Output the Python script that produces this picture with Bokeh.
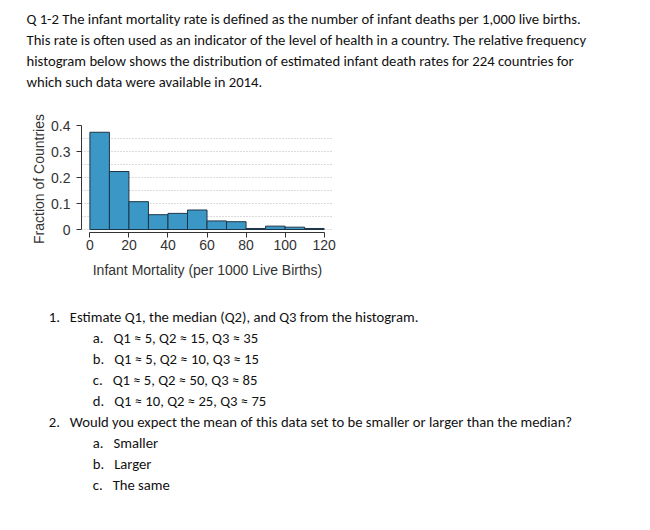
from bokeh.plotting import figure
from bokeh.models import Title, FixedTicker, NumeralTickFormatter, Range1d, ColumnDataSource
from bokeh.embed import file_html
from bokeh.resources import INLINE

# ---------------- data ----------------
bin_left = [0, 10, 20, 30, 40, 50, 60, 70, 80, 90, 100, 110]
bin_right = [10, 20, 30, 40, 50, 60, 70, 80, 90, 100, 110, 120]
fraction = [0.374, 0.223, 0.107, 0.057, 0.062, 0.075, 0.033, 0.030, 0.004, 0.013, 0.009, 0.004]

x_ticks = [0, 20, 40, 60, 80, 100, 120]
y_ticks = [0, 0.1, 0.2, 0.3, 0.4]
grid_levels = [0, 0.05, 0.1, 0.15, 0.2, 0.25, 0.3, 0.35, 0.4]

x_title = "Infant Mortality (per 1000 Live Births)"
y_title = "Fraction of Countries"

intro_lines = [
    "Q 1-2 The infant mortality rate is defined as the number of infant deaths per 1,000 live births.",
    "This rate is often used as an indicator of the level of health in a country. The relative frequency",
    "histogram below shows the distribution of estimated infant death rates for 224 countries for",
    "which such data were available in 2014.",
]

q_markers = ["1.", "a.", "b.", "c.", "d.", "2.", "a.", "b.", "c."]
q_texts = [
    "Estimate Q1, the median (Q2), and Q3 from the histogram.",
    "Q1 \u2248 5, Q2 \u2248 15, Q3 \u2248 35",
    "Q1 \u2248 5, Q2 \u2248 10, Q3 \u2248 15",
    "Q1 \u2248 5, Q2 \u2248 50, Q3 \u2248 85",
    "Q1 \u2248 10, Q2 \u2248 25, Q3 \u2248 75",
    "Would you expect the mean of this data set to be smaller or larger than the median?",
    "Smaller",
    "Larger",
    "The same",
]
q_level = [0, 1, 1, 1, 1, 0, 1, 1, 1]

# ---------------- figure ----------------
W, H = 646, 526
frame_l, frame_r, frame_t, frame_b = 81, 333, 125, 232

p = figure(
    width=W, height=H, output_backend="svg", toolbar_location=None,
    x_range=Range1d(-4.3, 124.8), y_range=Range1d(-0.0115, 0.4),
    min_border_left=frame_l, min_border_right=W - frame_r,
    min_border_top=frame_t, min_border_bottom=H - frame_b,
)
p.outline_line_color = None

src = ColumnDataSource(dict(left=bin_left, right=bin_right, top=fraction, bottom=[0] * len(fraction)))
p.quad(left="left", right="right", top="top", bottom="bottom", source=src,
       fill_color="#3b98c6", line_color="#1d3547", line_width=1)

p.xgrid.visible = False
p.ygrid.ticker = FixedTicker(ticks=grid_levels)
p.ygrid.grid_line_color = "#b8b8b8"
p.ygrid.grid_line_dash = "1 2"
p.ygrid.grid_line_width = 1

chart_font = "Liberation Sans"
for ax in (p.xaxis[0], p.yaxis[0]):
    ax.axis_line_color = "#333333"
    ax.major_tick_line_color = "#333333"
    ax.major_tick_out = 5
    ax.major_tick_in = 0
    ax.minor_tick_line_color = None
    ax.major_label_text_font = chart_font
    ax.major_label_text_font_size = "14px"
    ax.major_label_text_color = "#333333"
    ax.axis_label_text_font = chart_font
    ax.axis_label_text_font_size = "14px"
    ax.axis_label_text_font_style = "normal"
    ax.axis_label_text_color = "#333333"

p.xaxis.ticker = FixedTicker(ticks=x_ticks)
p.xaxis.bounds = (x_ticks[0], x_ticks[-1])
p.xaxis.axis_label = x_title
p.xaxis.major_label_standoff = 2
p.xaxis.axis_label_standoff = 9

p.yaxis.ticker = FixedTicker(ticks=y_ticks)
p.yaxis.bounds = (y_ticks[0], y_ticks[-1])
p.yaxis.formatter = NumeralTickFormatter(format="0.[0]")
p.yaxis.axis_label = y_title
p.yaxis.major_label_standoff = 6
p.yaxis.axis_label_standoff = 1

# ---------------- texts as titles in the side panels ----------------
text_font = "Carlito, Lato"
text_size = "14.67px"
text_color = "#111111"
NBSP = "\u00a0"


def make_title(txt, px, standoff):
    return Title(text=txt, align="left", offset=px - frame_l, standoff=standoff,
                 text_font=text_font, text_font_size=text_size, text_font_style="normal",
                 text_color=text_color)


# above: first-added sits next to the frame; a blank spacer makes the gap
p.add_layout(make_title(NBSP, 26, 14), "above")
for line in reversed(intro_lines):
    p.add_layout(make_title(line, 26, 1), "above")

# below: spacer after the x axis, then the questions
p.add_layout(make_title(NBSP, 70, 5), "below")
marker_x = [48.3, 92.3]
for m, t, lv in zip(q_markers, q_texts, q_level):
    p.add_layout(make_title(m + NBSP * 3 + t, marker_x[lv], 1), "below")

open("out.html", "w").write(file_html(p, INLINE))
